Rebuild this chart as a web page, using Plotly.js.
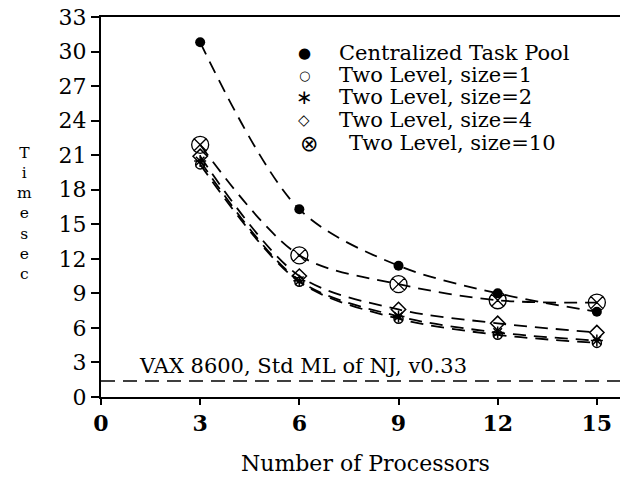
<!DOCTYPE html>
<html>
<head>
<meta charset="utf-8">
<script src="https://cdn.plot.ly/plotly-3.0.1.min.js"></script>
<style>html,body{margin:0;padding:0;background:#fff;}#chart{width:627px;height:479px;}</style>
</head>
<body>
<div id="chart"></div>
<script>
// ---- data ----
const processors   = [3, 6, 9, 12, 15];
const centralized  = [30.8, 16.3, 11.4, 9.0, 7.4];
const twoLevel1    = [20.2, 10.0, 6.8, 5.4, 4.7];
const twoLevel2    = [20.5, 10.1, 7.0, 5.6, 4.9];
const twoLevel4    = [20.9, 10.5, 7.6, 6.4, 5.6];
const twoLevel10   = [21.9, 12.3, 9.8, 8.4, 8.2];
const seriesNames  = ["Centralized Task Pool", "Two Level, size=1", "Two Level, size=2", "Two Level, size=4", "Two Level, size=10"];
const legendGlyphs = ["\u25CF", "\u25CB", "\u2217", "\u25C7", "\u2297"];
const baselineTime = 1.4;
const baselineLabel = "VAX 8600, Std ML of NJ, v0.33";
const xTickVals = [0, 3, 6, 9, 12, 15];
const yTickVals = [0, 3, 6, 9, 12, 15, 18, 21, 24, 27, 30, 33];
const xTitle = "Number of Processors";
const yTitleLetters = ["T", "i", "m", "e", "s", "e", "c"];

const FONT = "DejaVu Serif";
const seriesY = [centralized, twoLevel1, twoLevel2, twoLevel4, twoLevel10];
const markerStyles = [
  {symbol: "circle", size: 10, color: "#000", line: {width: 0}},
  {symbol: "circle-open", size: 9, color: "#000", line: {width: 1.5, color: "#000"}},
  {symbol: "asterisk-open", size: 10, color: "#000", line: {width: 1.5, color: "#000"}},
  {symbol: "diamond-open", size: 11, color: "#000", line: {width: 1.5, color: "#000"}},
  {symbol: "circle-x-open", size: 17, color: "#000", line: {width: 1.3, color: "#000"}}
];

const traces = seriesY.map((ys, i) => ({
  type: "scatter",
  mode: "lines+markers",
  x: processors,
  y: ys,
  name: seriesNames[i],
  line: {color: "#000", width: 1.8, dash: "13px,8px", shape: "spline", smoothing: 0.9},
  marker: markerStyles[i],
  showlegend: false,
  cliponaxis: false
}));

// plot area geometry (px)
const L = 101, R = 7, T = 17, B = 82, W = 627, H = 479;
const pw = W - L - R, ph = H - T - B;
const px2paperX = p => (p - L) / pw;
const py2paperY = p => (H - B - p) / ph;

const annotations = [];
// legend built from the series names
const legendRowY = [53, 75, 97, 120, 143];
const glyphSizes = [15, 13, 20, 15, 22];
seriesNames.forEach((name, i) => {
  annotations.push({
    xref: "paper", yref: "paper",
    x: px2paperX(i === 4 ? 309 : 304), y: py2paperY(legendRowY[i]),
    xanchor: "center", yanchor: "middle", showarrow: false,
    text: legendGlyphs[i],
    font: {family: "DejaVu Sans", size: glyphSizes[i], color: "#000"}
  });
  annotations.push({
    xref: "paper", yref: "paper",
    x: px2paperX(i === 4 ? 347 : 337), y: py2paperY(legendRowY[i]),
    xanchor: "left", yanchor: "middle", showarrow: false,
    text: name,
    font: {family: FONT, size: 21, color: "#000"}
  });
});
// baseline label
annotations.push({
  xref: "x", yref: "y", x: 1.08, y: baselineTime,
  xanchor: "left", yanchor: "bottom", yshift: 1, showarrow: false,
  text: baselineLabel,
  font: {family: FONT, size: 21, color: "#000"}
});
// stacked y title (one letter per line)
annotations.push({
  xref: "paper", yref: "paper",
  x: px2paperX(24), y: py2paperY(214),
  xanchor: "center", yanchor: "middle", showarrow: false,
  align: "center",
  text: yTitleLetters.join("<br>"),
  font: {family: FONT, size: 15.5, color: "#000"}
});
// x title
annotations.push({
  xref: "paper", yref: "paper",
  x: px2paperX(365), y: py2paperY(463),
  xanchor: "center", yanchor: "middle", showarrow: false,
  text: xTitle,
  font: {family: FONT, size: 22, color: "#000"}
});

const layout = {
  width: W, height: H,
  margin: {l: L, r: R, t: T, b: B, pad: 0},
  paper_bgcolor: "#fff", plot_bgcolor: "#fff",
  showlegend: false,
  font: {family: FONT, color: "#000"},
  xaxis: {
    range: [0, 15.7], tickvals: xTickVals, ticktext: xTickVals.map(String),
    ticks: "outside", ticklen: 6, tickwidth: 2, tickcolor: "#000",
    showline: true, linewidth: 2, linecolor: "#000", mirror: true,
    showgrid: false, zeroline: false, automargin: false,
    tickfont: {family: FONT, size: 22, weight: "bold", color: "#000"}
  },
  yaxis: {
    range: [0, 33], tickvals: yTickVals, ticktext: yTickVals.map(String),
    ticks: "outside", ticklen: 8, tickwidth: 2, tickcolor: "#000",
    showline: true, linewidth: 2, linecolor: "#000", mirror: false,
    showgrid: false, zeroline: false, automargin: false,
    tickfont: {family: FONT, size: 22, color: "#000"}
  },
  shapes: [{
    type: "line", xref: "paper", yref: "y",
    x0: 0, x1: 1, y0: baselineTime, y1: baselineTime,
    line: {color: "#000", width: 1.5, dash: "14px,8px"}
  }],
  annotations: annotations
};

Plotly.newPlot("chart", traces, layout, {displayModeBar: false, staticPlot: true});
</script>
</body>
</html>
